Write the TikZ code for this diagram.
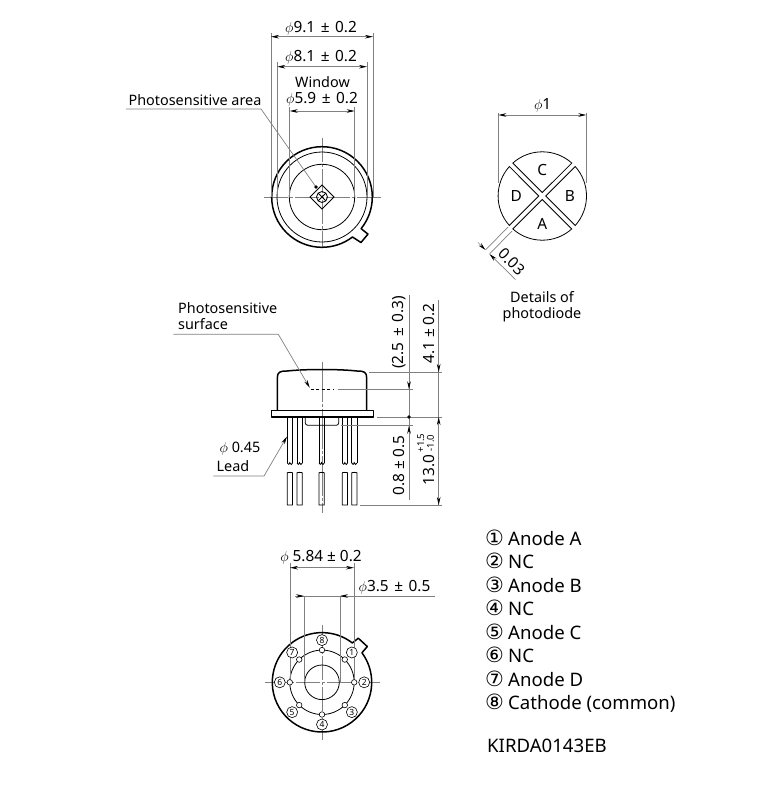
\documentclass[tikz,border=0pt]{standalone}
\usepackage{amsmath}
\usepackage{fontspec}
\setmainfont{Noto Sans}
\newfontfamily\symfont{DejaVu Sans}
\usetikzlibrary{arrows.meta,positioning,calc}
\newcommand{\tol}{\ \hspace{1.5pt}±\hspace{1.5pt}\ }

\begin{document}
\begin{tikzpicture}[
    x=1pt, y=1pt,
    body/.style={draw=black, line width=1.5pt, line join=round},
    thin part/.style={draw=black, line width=0.8pt},
    helper/.style={draw=black!50, line width=0.7pt},
    center line/.style={draw=black!50, line width=0.7pt, dash pattern=on 24pt off 2pt on 3pt off 2pt},
    dim/.style={draw=black!50, line width=0.7pt, {Stealth[length=8pt,width=3.6pt,color=black]}-{Stealth[length=8pt,width=3.6pt,color=black]}},
    tip/.style={draw=black!50, line width=0.7pt, -{Stealth[length=8pt,width=3.6pt,color=black]}},
    caption/.style={inner sep=0pt, font=\fontsize{14.4}{16}\selectfont},
    size/.style={inner sep=0pt, font=\fontsize{15.4}{17}\selectfont},
    sign/.style={inner sep=0pt, anchor=base west, font=\fontsize{21}{21}\symfont},
    legend/.style={inner sep=0pt, anchor=base west, font=\fontsize{18.6}{20}\selectfont},
    pin hole/.style={circle, draw=black, line width=0.6pt, fill=white, inner sep=0pt, minimum size=5.5pt},
    pin no/.style={circle, draw=black, line width=0.6pt, fill=white, inner sep=0pt, minimum size=11pt, font=\fontsize{8.5}{8.5}\selectfont}
]
\useasboundingbox (0,0) rectangle (766,-790);

% Top view
\coordinate (top) at (322,-197);
\draw [center line] (322,-138) -- (322,-248);
\draw [center line] (264,-197) -- (381,-197);
\draw [body] (top) ++(-39:50.3) arc (-39:307.3:50.3) -- ++(8.5,-5.5) -- ++(7,8.4) -- cycle;
\draw [thin part] (top) circle (45);
\draw [thin part] (top) circle (32.7);
\draw [thin part] (310,-197) -- (322,-185) -- (334,-197) -- (322,-209) -- cycle;
\draw [thin part] (top) circle (5.5);
\draw [thin part] (318.1,-193.1) -- (325.9,-200.9) (318.1,-200.9) -- (325.9,-193.1);

\foreach \xa/\ya in {271/33, 373/33, 277.3/62, 367/62, 289.7/107, 354.7/107}
  \draw [helper] (\xa,-\ya) -- (\xa,-197);
\draw [dim] (271,-36.7) -- (373,-36.7);
\draw [dim] (277.3,-66.7) -- (367,-66.7);
\draw [dim] (289.7,-111) -- (354.7,-111);
\node [size] (dia91) at (321,-28) {$\phi$9.1\tol 0.2};
\node [size] (dia81) at (321,-57.5) {$\phi$8.1\tol 0.2};
\node [caption] (window) at (322.5,-82.5) {Window};
\node [size] (dia59) at (322,-99) {$\phi$5.9\tol 0.2};
\node [caption] (area) at (195,-100) {Photosensitive area};
\coordinate (area a) at (126,-109);
\coordinate (area b) at (261,-109);
\coordinate (area c) at (316,-187);
\draw [helper] (area a) -- (area b) -- (area c);
\fill (area c) circle (1.8);

% Details of photodiode
\coordinate (det) at (542.3,-196);
\foreach \ang in {0, 90, 180, 270} {
  \begin{scope}[shift={(det)}, rotate=\ang]
    \draw [thin part] (3.5,0) -- (32.95,29.45) arc (41.8:-41.8:44.2) -- cycle;
  \end{scope}
}
\foreach \ang/\txt/\rad in {0/B/27.5, 90/C/26, 180/D/26, 270/A/27.5}
  \node [size] (part\txt) at ($(det)+(\ang:\rad)$) {\txt};
\foreach \xa in {498.3, 586.3}
  \draw [helper] (\xa,-112.7) -- (\xa,-182.7);
\draw [dim] (498.3,-115) -- (586.3,-115);
\node [size] (dia1) at (542.7,-105) {$\phi$1};
\coordinate (gap a) at (508,-227);
\coordinate (gap b) at (512,-231);
\coordinate (gap c) at (485.5,-250);
\coordinate (gap d) at (489.5,-254);
\draw [helper] (gap a) -- (gap c);
\draw [helper] (gap b) -- (gap d);
\draw [tip] (478,-242.5) -- (gap c);
\draw [tip] (515.5,-279.5) -- (gap d);
\node [size, rotate=-45] (gap) at (511.7,-261.7) {0.03};
\node [caption, align=center] (details) at (542,-306.5) {Details of\\photodiode};

% Side view
\draw [center line, dash pattern=on 40pt off 2pt on 3pt off 2pt] (322,-361.7) -- (322,-512.7);
\draw [body] (277.3,-410.7) -- (277.3,-378) .. controls (277.3,-372) and (280,-371) .. (287,-371)
  .. controls (305,-369) and (339,-369) .. (357,-371) .. controls (364,-371) and (366.7,-372) .. (366.7,-378) -- (366.7,-410.7);
\draw [body] (271.7,-410.7) rectangle (373.3,-417);
\draw [thin part, rounded corners=2.5pt] (305.3,-417) -- (305.3,-425.3) -- (338.7,-425.3) -- (338.7,-417);
\foreach \xa in {287.3, 297, 319, 342.3, 351.7} {
  \draw [thin part] (\xa,-417) -- (\xa,-463) (\xa+5.2,-417) -- (\xa+5.2,-463);
  \draw [thin part] (\xa,-505) -- (\xa,-472.7) .. controls (\xa+2,-471.5) and (\xa+3,-473) .. (\xa+5.2,-472.7) -- (\xa+5.2,-505) -- cycle;
  \draw [thin part] (\xa,-463) .. controls (\xa+1,-465) and (\xa+2,-465) .. (\xa+2.6,-462)
     (\xa+2.6,-463) .. controls (\xa+3.5,-465) and (\xa+4.5,-465) .. (\xa+5.2,-463);
}
\draw [thin part, dash pattern=on 3pt off 2.5pt, line width=0.9pt] (310.7,-389.3) -- (334,-389.3);

\draw [helper] (369,-372) -- (441.7,-372);
\draw [helper] (338.3,-389.3) -- (412.7,-389.3);
\draw [helper] (376.7,-417) -- (441.7,-417);
\draw [helper] (341,-425.7) -- (413.3,-425.7);
\draw [helper] (360,-505) -- (441.7,-505);

\node [caption, align=left, anchor=north west] (surface) at (178,-302) {Photosensitive\\surface};
\coordinate (surface a) at (173.3,-334.3);
\coordinate (surface b) at (278.3,-334.3);
\coordinate (surface c) at (309.8,-387.8);
\draw [tip] (surface a) -- (surface b) -- (surface c);
\node [caption] (lead dia) at (240,-449) {$\phi$ 0.45};
\node [caption] (lead) at (233,-466) {Lead};
\coordinate (lead a) at (213.3,-476);
\coordinate (lead b) at (264,-476);
\coordinate (lead c) at (287,-436.5);
\draw [tip] (lead a) -- (lead b) -- (lead c);

\draw [helper] (409,-295) -- (409,-500);
\draw [helper] (438.7,-300) -- (438.7,-505);
\draw [tip] (409,-378) -- (409,-389.3);
\fill (409,-417) circle (1.8);
\draw [tip] (409,-437) -- (409,-425.7);
\draw [tip] (438.7,-360) -- (438.7,-372);
\draw [tip] (438.7,-429) -- (438.7,-417);
\draw [tip] (438.7,-493) -- (438.7,-505);
\node [size, rotate=90] (h25) at (399,-332.5) {(2.5\tol 0.3)};
\node [size, rotate=90] (h08) at (399,-465.5) {0.8 ± 0.5};
\node [size, rotate=90] (h41) at (429,-333.5) {4.1 ± 0.2};
\node [size, rotate=90] (h13) at (429,-470) {13.0};
\node [size, rotate=90, font=\fontsize{9.5}{9.5}\selectfont] (h13a) at (420.7,-443) {+1.5};
\node [size, rotate=90, font=\fontsize{9.5}{9.5}\selectfont] (h13b) at (430.5,-443) {-1.0};

% Bottom view
\coordinate (bot) at (322,-682.3);
\draw [center line] (322,-625) -- (322,-740);
\draw [center line] (265,-682.3) -- (380,-682.3);
\draw [body] (bot) ++(36.5:49.7) arc (36.5:-307.6:49.7) -- ++(6,4.7) -- ++(9,-8.3) -- cycle;
\draw [thin part] (bot) circle (32.2);
\draw [thin part] (bot) circle (17.3);
\foreach \xa/\ya in {290/563, 354/563, 304/596, 340/596}
  \draw [helper] (\xa,-\ya) -- (\xa,-682.3);
\draw [dim] (290,-567.7) -- (354,-567.7);
\draw [helper] (295,-596) -- (435,-596);
\draw [tip] (295,-596) -- (304,-596);
\draw [tip] (349,-596) -- (340,-596);
\node [size] (dia584) at (321,-557.7) {$\phi$ 5.84 ± 0.2};
\node [size] (dia35) at (394.5,-587.3) {$\phi$3.5\tol 0.5};
\foreach \no/\ang in {1/45, 2/0, 3/-45, 4/-90, 5/-135, 6/180, 7/135, 8/90} {
  \node [pin hole] (pin\no) at ($(bot)+(\ang:32.2)$) {};
  \node [pin no] (no\no) at ($(bot)+(\ang:42.2)$) {\no};
}

% Pin list
\foreach \no/\sym/\txt/\ya in {1/①/Anode A/545, 2/②/NC/568, 3/③/Anode B/592, 4/④/NC/615, 5/⑤/Anode C/639, 6/⑥/NC/662, 7/⑦/Anode D/686, 8/⑧/Cathode (common)/709} {
  \node [sign] (sign\no) at (485,-\ya) {\sym};
  \node [legend] (item\no) at (508,-\ya) {\txt};
}
\node [legend] (code) at (487,-752.5) {KIRDA0143EB};

\end{tikzpicture}
\end{document}
